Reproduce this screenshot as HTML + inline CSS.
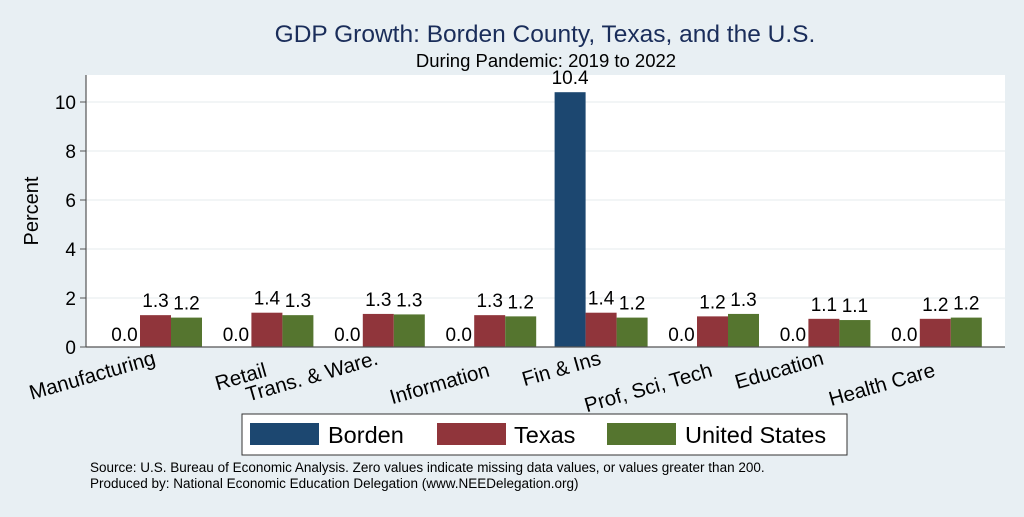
<!DOCTYPE html>
<html><head><meta charset="utf-8"><style>
body{margin:0;background:#e8eff3;font-family:"Liberation Sans",sans-serif;}
</style></head><body>
<svg width="1024" height="512" xmlns="http://www.w3.org/2000/svg" font-family="Liberation Sans, sans-serif">
<rect width="1024" height="512" fill="#e8eff3"/>
<rect x="86" y="75" width="919" height="272" fill="#fff"/>
<text x="545" y="42" font-size="24.5" fill="#1a2d5a" text-anchor="middle">GDP Growth: Borden County, Texas, and the U.S.</text>
<text x="546" y="67" font-size="18.5" fill="#000" text-anchor="middle">During Pandemic: 2019 to 2022</text>
<text transform="translate(38,211) rotate(-90)" font-size="20" text-anchor="middle">Percent</text>
<g id="grid"></g><g id="bars"></g>
<line x1="86" y1="75" x2="86" y2="347" stroke="#555" stroke-width="1.2"/>
<line x1="86" y1="347" x2="1005" y2="347" stroke="#555" stroke-width="1.2"/>
<g>
<rect x="242" y="414" width="605" height="41" fill="#fff" stroke="#333" stroke-width="1"/>
<rect x="250" y="423" width="69" height="22" fill="#1c4770"/>
<text x="328" y="443" font-size="23.5">Borden</text>
<rect x="437" y="423" width="69" height="22" fill="#90353b"/>
<text x="514" y="443" font-size="23.5">Texas</text>
<rect x="607" y="423" width="69" height="22" fill="#55752f"/>
<text x="685" y="443" font-size="23.5">United States</text>
</g>
<text x="90" y="472" font-size="13.5">Source: U.S. Bureau of Economic Analysis. Zero values indicate missing data values, or values greater than 200.</text>
<text x="90" y="488" font-size="13.5">Produced by: National Economic Education Delegation (www.NEEDelegation.org)</text>
</svg>
<script>
const categories=["Manufacturing","Retail","Trans. & Ware.","Information","Fin & Ins","Prof, Sci, Tech","Education","Health Care"];
const borden=[0.0,0.0,0.0,0.0,10.4,0.0,0.0,0.0];
const texas=[1.3,1.4,1.35,1.3,1.4,1.25,1.15,1.15];
const us=[1.2,1.3,1.33,1.25,1.2,1.35,1.1,1.2];
const texasLabels=["1.3","1.4","1.3","1.3","1.4","1.2","1.1","1.2"];
const usLabels=["1.2","1.3","1.3","1.2","1.2","1.3","1.1","1.2"];
const yTicks=[0,2,4,6,8,10];
const NS="http://www.w3.org/2000/svg";
const y=v=>347-v*24.5;
const xc=i=>155.5+i*111.4;
const bw=31;
const grid=document.getElementById('grid'),bars=document.getElementById('bars');
function mk(tag,attrs,parent){const e=document.createElementNS(NS,tag);for(const k in attrs)e.setAttribute(k,attrs[k]);parent.appendChild(e);return e;}
yTicks.forEach(t=>{
 if(t>0){const g=mk('line',{x1:86,x2:1005,y1:y(t),y2:y(t),stroke:'#eaeff1','stroke-width':1.2},grid);
 
 }
 const tk=mk('line',{x1:80,x2:86,y1:y(t),y2:y(t),stroke:'#555'},grid);
 
 
 const tl=mk('text',{x:76,y:y(t)+7,'font-size':19,'text-anchor':'end'},grid);tl.textContent=t;
 
 
});
const series=[[borden,'#1c4770',null,'borden'],[texas,'#90353b',texasLabels,'texas'],[us,'#55752f',usLabels,'us']];
categories.forEach((c,i)=>{
 series.forEach((s,j)=>{
  const v=s[0][i];const x=xc(i)+(j-1.5)*bw;
  const r=mk('rect',{x:x,y:y(v),width:bw,height:347-y(v),fill:s[1]},bars);
  
  
  const lbl=s[2]?s[2][i]:v.toFixed(1);
  const t=mk('text',{x:x+bw/2,y:(v>0.05?y(v)-8:341),'font-size':19,'text-anchor':'middle'},bars);t.textContent=lbl;
  
  
 });
 const cl=mk('text',{transform:`translate(${xc(i)+1},${364+(i%2?12:0)}) rotate(-16)`,'font-size':20.5,'text-anchor':'end'},bars);
 cl.textContent=c;
 
 
});
</script>
</body></html>
